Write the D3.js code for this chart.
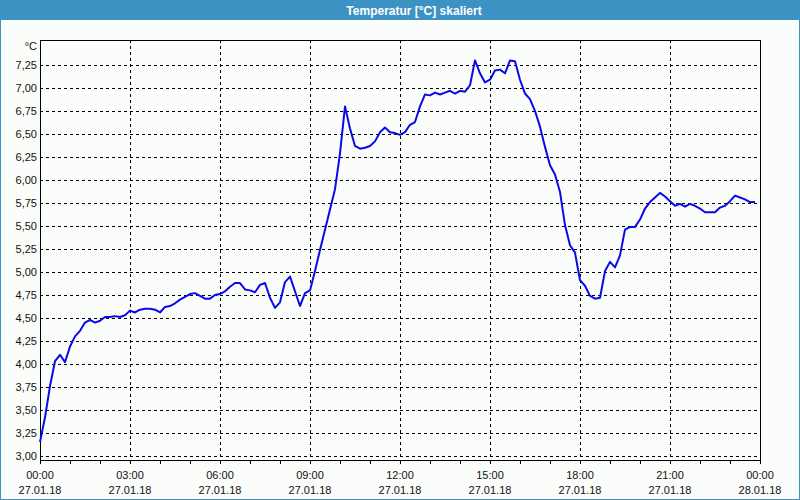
<!DOCTYPE html>
<html>
<head>
<meta charset="utf-8">
<script src="https://cdn.jsdelivr.net/npm/d3@7"></script>
<style>
  html, body { margin: 0; padding: 0; background: #fbfdfb; }
  svg { display: block; }
  text { font-family: "Liberation Sans", Arial, sans-serif; }
</style>
</head>
<body>
<svg id="chart" width="800" height="500"></svg>
<script>
// ---- data ----
const chartTitle = "Temperatur [°C] skaliert";
const unitLabel = "°C";
const startTime = Date.UTC(2018, 0, 27, 0, 0);   // 27.01.18 00:00
const endTime = Date.UTC(2018, 0, 28, 0, 0);     // 28.01.18 00:00
const stepMinutes = 10;
const temperature = [
  3.15, 3.42, 3.76, 4.03, 4.10, 4.02, 4.19, 4.30, 4.36, 4.45,
  4.48, 4.45, 4.47, 4.51, 4.51, 4.52, 4.51, 4.53, 4.58, 4.56,
  4.59, 4.60, 4.60, 4.59, 4.56, 4.62, 4.63, 4.66, 4.70, 4.73,
  4.76, 4.77, 4.74, 4.71, 4.71, 4.75, 4.76, 4.79, 4.84, 4.88,
  4.88, 4.81, 4.80, 4.78, 4.86, 4.88, 4.72, 4.61, 4.67, 4.89,
  4.95, 4.79, 4.63, 4.77, 4.80, 5.01, 5.24, 5.46, 5.68, 5.90,
  6.29, 6.80, 6.56, 6.37, 6.34, 6.35, 6.37, 6.42, 6.52, 6.57,
  6.52, 6.51, 6.49, 6.52, 6.60, 6.63, 6.80, 6.93, 6.92, 6.95,
  6.93, 6.95, 6.97, 6.94, 6.97, 6.96, 7.03, 7.30, 7.16, 7.06,
  7.09, 7.19, 7.20, 7.16, 7.30, 7.29, 7.09, 6.94, 6.88, 6.75,
  6.58, 6.36, 6.16, 6.06, 5.87, 5.51, 5.29, 5.21, 4.91, 4.85,
  4.74, 4.71, 4.72, 5.01, 5.11, 5.05, 5.18, 5.46, 5.49, 5.49,
  5.57, 5.69, 5.76, 5.81, 5.86, 5.82, 5.77, 5.72, 5.74, 5.71,
  5.74, 5.72, 5.69, 5.65, 5.65, 5.65, 5.70, 5.72, 5.77, 5.83,
  5.81, 5.79, 5.76, 5.76
];
const yTicks = [3.00, 3.25, 3.50, 3.75, 4.00, 4.25, 4.50, 4.75, 5.00, 5.25, 5.50, 5.75, 6.00, 6.25, 6.50, 6.75, 7.00, 7.25];
const yDomain = [2.956, 7.522];
const majorTickHours = 3;

// ---- layout ----
const W = 800, H = 500;
const plot = { left: 40, top: 40, right: 760, bottom: 460 };
const svg = d3.select("#chart");

const points = temperature.map((v, i) => ({ t: new Date(startTime + i * stepMinutes * 60000), v }));

const x = d3.scaleUtc().domain([new Date(startTime), new Date(endTime)]).range([plot.left, plot.right]);
const y = d3.scaleLinear().domain(yDomain).range([plot.bottom, plot.top]);

// background + window border
svg.append("rect").attr("x", 0).attr("y", 0).attr("width", W).attr("height", H).attr("fill", "#3d92c4");
svg.append("rect").attr("x", 1).attr("y", 20).attr("width", W - 2).attr("height", H - 21).attr("fill", "#fbfdfb");

// title
svg.append("text").attr("x", 414).attr("y", 14.5).attr("text-anchor", "middle")
  .attr("fill", "#ffffff").attr("font-weight", "bold").attr("font-size", "12px")
  .text(chartTitle);

// grid
const majorTimes = d3.utcHour.every(majorTickHours).range(new Date(startTime), new Date(endTime + 1));
const minorTimes = d3.utcHour.every(1).range(new Date(startTime), new Date(endTime + 1));

svg.append("g").selectAll("line").data(yTicks).join("line")
  .attr("x1", plot.left).attr("x2", plot.right)
  .attr("y1", d => Math.round(y(d)) + 0.5).attr("y2", d => Math.round(y(d)) + 0.5)
  .attr("stroke", "#000").attr("stroke-width", 1).attr("stroke-dasharray", "3,3");

svg.append("g").selectAll("line").data(majorTimes.slice(1, -1)).join("line")
  .attr("x1", d => Math.round(x(d)) + 0.5).attr("x2", d => Math.round(x(d)) + 0.5)
  .attr("y1", plot.top).attr("y2", plot.bottom)
  .attr("stroke", "#000").attr("stroke-width", 1).attr("stroke-dasharray", "3,3");

// x axis (ticks + two-line labels)
const fmtTime = d3.utcFormat("%H:%M");
const fmtDate = d3.utcFormat("%d.%m.%y");
const xAxis = d3.axisBottom(x).tickValues(minorTimes).tickSize(4).tickFormat("");
const gx = svg.append("g").attr("transform", `translate(0,${plot.bottom})`).call(xAxis);
gx.select(".domain").remove();
gx.selectAll(".tick line").attr("stroke", "#000");

const gxl = svg.append("g").attr("font-size", "11px").attr("fill", "#111");
gxl.selectAll("text.t").data(majorTimes).join("text").attr("class", "t")
  .attr("x", d => x(d)).attr("y", 479).attr("text-anchor", "middle").text(d => fmtTime(d));
gxl.selectAll("text.d").data(majorTimes).join("text").attr("class", "d")
  .attr("x", d => x(d)).attr("y", 494).attr("text-anchor", "middle").text(d => fmtDate(d));

// y axis labels
const fmtY = v => d3.format(".2f")(v).replace(".", ",");
const yAxis = d3.axisLeft(y).tickValues(yTicks).tickSize(0).tickPadding(3).tickFormat(fmtY);
const gy = svg.append("g").attr("transform", `translate(${plot.left},0)`).call(yAxis);
gy.select(".domain").remove();
gy.selectAll("text").attr("font-family", "Liberation Sans, Arial, sans-serif")
  .attr("font-size", "11px").attr("fill", "#111");

svg.append("text").attr("x", 37).attr("y", 50).attr("text-anchor", "end")
  .attr("font-size", "11px").attr("fill", "#111").text(unitLabel);

// frame
svg.append("rect").attr("x", plot.left + 0.5).attr("y", plot.top + 0.5)
  .attr("width", plot.right - plot.left).attr("height", plot.bottom - plot.top)
  .attr("fill", "none").attr("stroke", "#000").attr("stroke-width", 1);

// line
const line = d3.line().x(d => x(d.t)).y(d => y(d.v));
svg.append("path").datum(points).attr("d", line)
  .attr("fill", "none").attr("stroke", "#0a0ae8").attr("stroke-width", 2)
  .attr("stroke-linejoin", "round");
</script>
</body>
</html>
